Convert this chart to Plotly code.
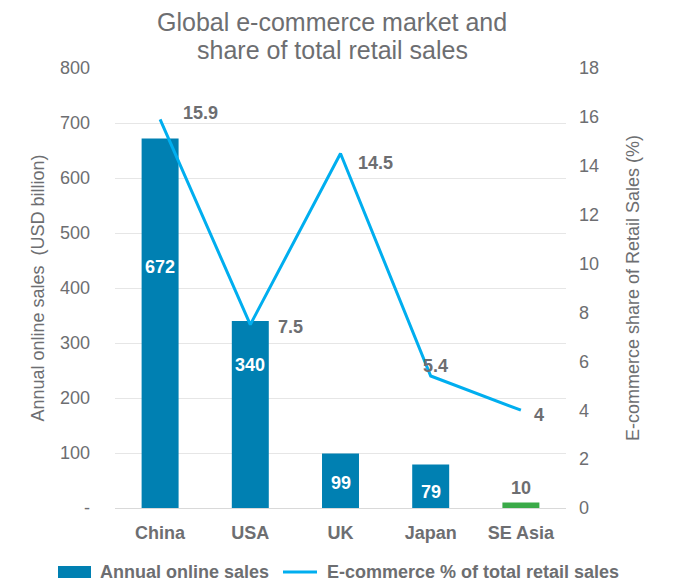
import plotly.graph_objects as go

# Market data
countries = ["China", "USA", "UK", "Japan", "SE Asia"]
online_sales = [672, 340, 99, 79, 10]          # USD billion
ecom_share = [15.9, 7.5, 14.5, 5.4, 4]         # % of total retail sales

left_ticks = [0, 100, 200, 300, 400, 500, 600, 700, 800]
left_tick_text = ["-", "100", "200", "300", "400", "500", "600", "700", "800"]
right_ticks = [0, 2, 4, 6, 8, 10, 12, 14, 16, 18]

bar_name = "Annual online sales"
line_name = "E-commerce % of total retail sales"
title_lines = ["Global e-commerce market and", "share of total retail sales"]

# Styling
BLUE = "#0080b2"
GREEN = "#3aaa48"
LINE = "#00aeef"
GRAY = "#6d6e71"
FONT = "Liberation Sans, Arial, sans-serif"

W, H = 677, 581
M_L, M_R, M_T, M_B = 115, 111, 68, 73
PW, PH = W - M_L - M_R, H - M_T - M_B


def px_x(px):
    """Horizontal pixel position -> paper coordinate."""
    return (px - M_L) / PW


def px_y(py):
    """Vertical pixel position (from top) -> paper coordinate."""
    return (H - M_B - py) / PH


bar_colors = [BLUE, BLUE, BLUE, BLUE, GREEN]
# vertical placement of in-bar labels, as a fraction of each bar's height
inner_label_frac = [0.652, 0.765, 0.46, 0.37, None]
# pixel offsets of line-value labels relative to their points
line_label_shift = [(40, 6), (40, -2), (35, -9), (5, 10), (18, -5)]

fig = go.Figure()

fig.add_trace(go.Bar(
    x=countries, y=online_sales, name=bar_name,
    marker=dict(color=bar_colors, line=dict(width=0)),
    yaxis="y", hoverinfo="x+y",
))

fig.add_trace(go.Scatter(
    x=countries, y=ecom_share, name=line_name,
    mode="lines", line=dict(color=LINE, width=3),
    yaxis="y2",
))

annotations = []

# two-line chart title
for text, cy in zip(title_lines, [22, 50]):
    annotations.append(dict(
        text=text, xref="paper", yref="paper", x=px_x(332), y=px_y(cy),
        xanchor="center", yanchor="middle", showarrow=False,
        font=dict(size=25, color=GRAY, family=FONT),
    ))

# bar value labels
for c, v, frac in zip(countries, online_sales, inner_label_frac):
    if frac is not None:
        annotations.append(dict(
            x=c, y=v * frac, xref="x", yref="y", text=f"<b>{v}</b>",
            showarrow=False, font=dict(color="white", size=18, family=FONT),
        ))
    else:
        annotations.append(dict(
            x=c, y=v, xref="x", yref="y", text=f"<b>{v}</b>",
            showarrow=False, yanchor="bottom", yshift=3,
            font=dict(color=GRAY, size=18, family=FONT),
        ))

# line value labels
for c, s, (dx, dy) in zip(countries, ecom_share, line_label_shift):
    annotations.append(dict(
        x=c, y=s, xref="x", yref="y2", text=f"<b>{s:g}</b>",
        showarrow=False, xshift=dx, yshift=dy,
        font=dict(color=GRAY, size=18, family=FONT),
    ))

# legend row below the axis
LEG_Y = 572
shapes = [
    dict(type="rect", xref="paper", yref="paper",
         x0=px_x(58), x1=px_x(91), y0=px_y(LEG_Y + 6), y1=px_y(LEG_Y - 6),
         fillcolor=BLUE, line=dict(width=0)),
    dict(type="line", xref="paper", yref="paper",
         x0=px_x(283), x1=px_x(317), y0=px_y(LEG_Y), y1=px_y(LEG_Y),
         line=dict(color=LINE, width=3)),
]
for text, lx in [(bar_name, 98), (line_name, 325)]:
    annotations.append(dict(
        text=f"<b>{text}</b>", xref="paper", yref="paper",
        x=px_x(lx), y=px_y(LEG_Y), xanchor="left", yanchor="middle",
        showarrow=False, font=dict(size=18, color=GRAY, family=FONT),
    ))

fig.update_layout(
    width=W, height=H,
    margin=dict(l=M_L, r=M_R, t=M_T, b=M_B, autoexpand=False),
    paper_bgcolor="white", plot_bgcolor="white",
    font=dict(family=FONT, color=GRAY, size=18),
    bargap=0.59,
    showlegend=False,
    xaxis=dict(
        showgrid=False, showline=False, ticks="",
        tickfont=dict(size=18, color=GRAY, family=FONT),
        tickprefix="<b>", ticksuffix="</b>", ticklabelstandoff=12,
    ),
    yaxis=dict(
        range=[0, 800], tickvals=left_ticks, ticktext=left_tick_text,
        showgrid=True, gridcolor="#e6e6e6", gridwidth=1,
        zeroline=True, zerolinecolor="#d9d9d9", zerolinewidth=1,
        tickfont=dict(size=18, color=GRAY), ticks="", ticklabelstandoff=24,
        title=dict(text="Annual online sales  (USD billion)",
                   font=dict(size=18, color=GRAY), standoff=10),
    ),
    yaxis2=dict(
        range=[0, 18], tickvals=right_ticks, overlaying="y", side="right",
        showgrid=False, zeroline=False, ticks="",
        tickfont=dict(size=18, color=GRAY), ticklabelstandoff=12,
        title=dict(text="E-commerce share of Retail Sales (%)",
                   font=dict(size=18, color=GRAY), standoff=28),
    ),
    annotations=annotations,
    shapes=shapes,
)

fig.write_html("out.html")
